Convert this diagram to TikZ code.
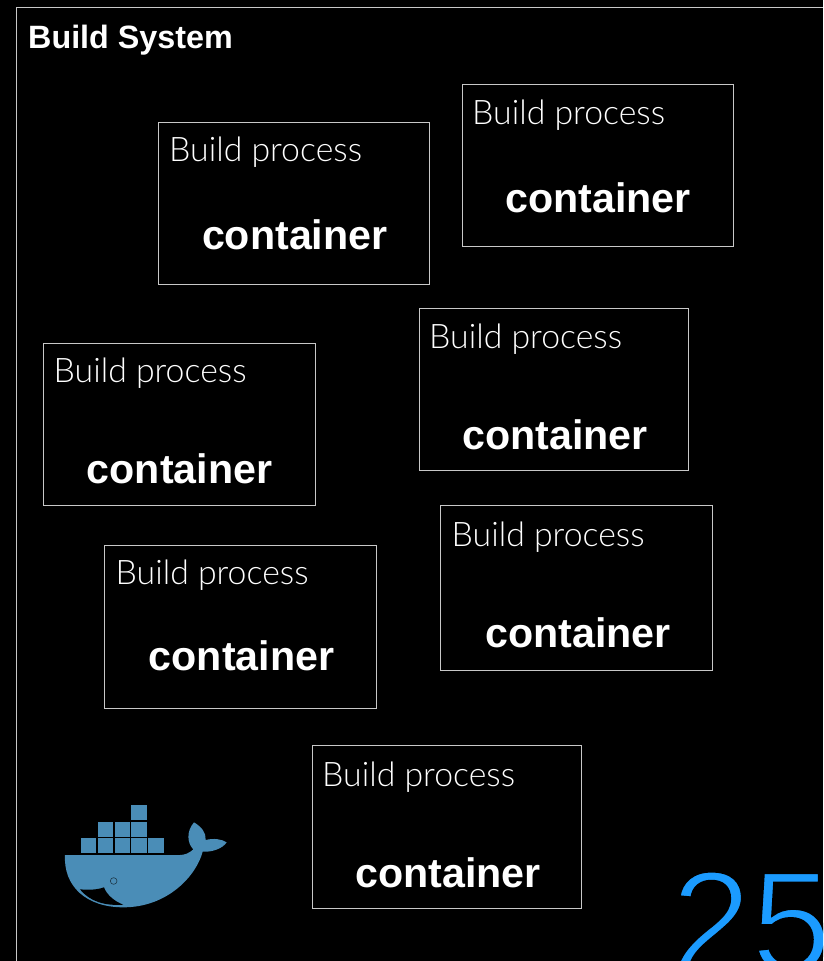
\documentclass[tikz,border=0pt]{standalone}
\usepackage{fontspec}
\setmainfont{Liberation Sans}
\newfontfamily\lightf{Lato}[UprightFont=* Light]
\definecolor{framec}{HTML}{C8C8C8}
\definecolor{whale}{HTML}{4A8DB7}
\definecolor{numblue}{HTML}{1B9BFF}
\tikzset{
  x=1pt,y=-1pt,
  boxn/.style={draw=framec,line width=0.9pt,fill=black,inner sep=0pt,outer sep=0pt,anchor=north west},
  proc/.style={text=white,inner sep=0pt,anchor=base west,font=\lightf\fontsize{33.8}{36}\selectfont},
  cont/.style={text=white,inner sep=0pt,anchor=base,font=\bfseries\fontsize{41.2}{46}\selectfont},
  title/.style={text=white,inner sep=0pt,anchor=base west,font=\bfseries\fontsize{32.3}{36}\selectfont},
  crate/.style={fill=whale,draw=none},
}
\newcommand{\bbox}[8]{%
  \node[boxn,minimum width=#4pt,minimum height=#5pt] (#1) at (#2,#3) {};
  \node[proc] (#1p) at (#6) {Build process};
  \node[cont] (#1c) at (#7,#8) {container};
}
\begin{document}
\begin{tikzpicture}
\useasboundingbox (0,0) rectangle (823,961);
\clip (0,0) rectangle (823,961);
\fill[black] (0,0) rectangle (823,961);
\draw[framec,line width=0.9pt] (16.5,961) -- (16.5,7) -- (823,7);
\node[title] (sys) at (28,48) {Build System};
\bbox{a}{158}{122}{271.8}{162}{169,161.5}{294.8}{249}
\bbox{b}{462}{84.2}{271.8}{162.2}{472,124.5}{598.2}{212}
\bbox{c}{43}{343}{272}{162.2}{53.5,382.5}{179.6}{483}
\bbox{d}{419}{308}{269.5}{162.2}{429,348.5}{555}{449}
\bbox{e}{440.5}{505.5}{271.8}{165}{451.5,546.5}{578}{647}
\bbox{f}{104.5}{545.5}{271.8}{162.6}{115.5,584.5}{241.6}{670}
\bbox{g}{312.5}{745.5}{269.2}{162.6}{322,786.5}{448}{887}
\node[text=numblue,inner sep=0pt,anchor=base west,font=\fontsize{144}{150}\selectfont] (num) at (671,971.5) {\special{pdf:code 2 Tr 0 0 0 RG 3.2 w}25\special{pdf:code 0 Tr}};
\begin{scope}[shift={(40,790)},x=0.3333pt,y=-0.3333pt]
  \foreach \cx/\cy in {274/45,174/95,224/95,274/95,123/145,174/145,224/145,274/145,325/145}
    \fill[crate] (\cx,\cy) rectangle ++(46,45);
  \fill[whale] (75,195) -- (420,195)
    .. controls (435,195) and (450,188) .. (460,178)
    .. controls (442,160) and (438,125) .. (462,97)
    .. controls (484,110) and (499,128) .. (497,150)
    .. controls (520,144) and (545,147) .. (560,157)
    .. controls (548,176) and (515,187) .. (488,185)
    .. controls (470,255) and (385,352) .. (250,352)
    .. controls (140,352) and (70,290) .. (75,195) -- cycle;
  \fill[black] (120,298) .. controls (145,300) and (170,300) .. (192,292)
    .. controls (200,315) and (225,335) .. (250,344)
    .. controls (195,348) and (150,335) .. (120,298) -- cycle;
  \draw[black!60!whale,line width=0.6pt] (221,273) circle (10);
\end{scope}
\end{tikzpicture}
\end{document}
